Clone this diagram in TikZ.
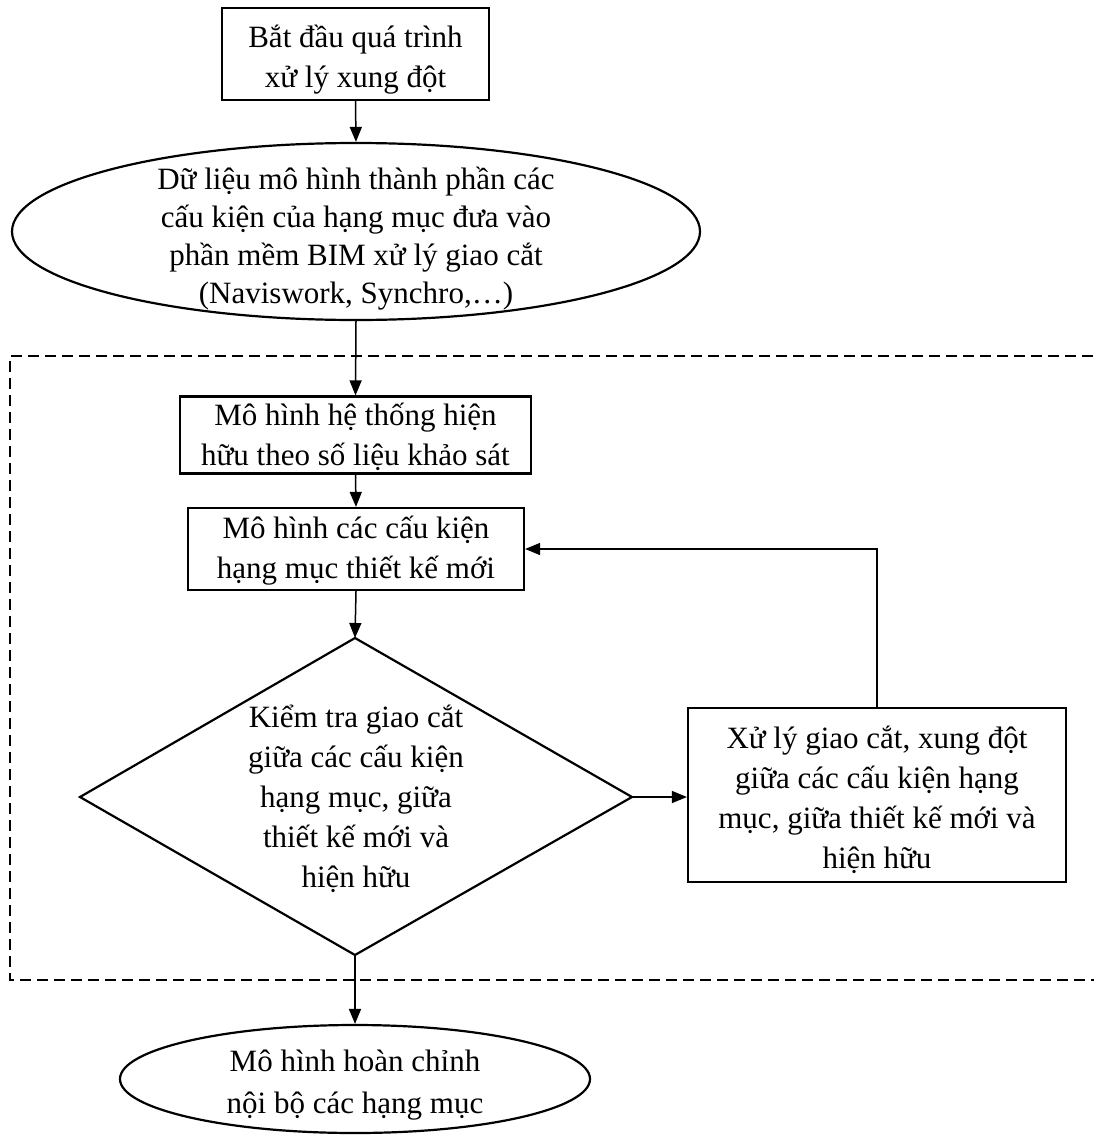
\documentclass[tikz,border=0pt]{standalone}
\usepackage{fontspec}
\setmainfont{Liberation Serif}
\usetikzlibrary{arrows.meta,shapes.geometric}
\begin{document}
\begin{tikzpicture}[x=1pt,y=-1pt,
  every node/.style={font=\fontsize{31}{40}\selectfont, align=center, inner sep=0pt},
  pbox/.style={draw, line width=2.2pt, rectangle},
  oval/.style={draw, line width=2.2pt, ellipse},
  arr/.style={line width=1.5pt, -{Triangle[length=15pt,width=12pt]}},
  frame/.style={line width=2.2pt, dash pattern=on 11pt off 6pt},
  ]
\useasboundingbox (0,0) rectangle (1094,1135);
% dashed frame (right side beyond the picture)
\draw[frame] (1110,356) -- (10,356) -- (10,980) -- (1110,980);

\node[pbox, minimum width=267pt, minimum height=92pt] (start) at (355.5,54) {};
\node (startt) at (355.5,60) {Bắt đầu quá trình\\xử lý xung đột};

\node[oval, minimum width=688pt, minimum height=177pt] (e1) at (356,231.5) {};
\node[font=\fontsize{31}{38}\selectfont] (e1t) at (356,239) {Dữ liệu mô hình thành phần các\\cấu kiện của hạng mục đưa vào\\phần mềm BIM xử lý giao cắt\\(Naviswork, Synchro,…)};

\node[pbox, minimum width=351pt, minimum height=77pt] (b2) at (355.5,435) {};
\node[font=\fontsize{31}{40}\selectfont] (b2t) at (355.5,437) {Mô hình hệ thống hiện\\hữu theo số liệu khảo sát};

\node[pbox, minimum width=336pt, minimum height=82pt] (b3) at (356,549) {};
\node[font=\fontsize{31}{40}\selectfont] (b3t) at (356,551) {Mô hình các cấu kiện\\hạng mục thiết kế mới};

\coordinate (dt) at (355,638);
\coordinate (dl) at (80,797);
\coordinate (dr) at (632,797);
\coordinate (db) at (355,955);
\draw[line width=2.2pt, line join=miter] (dt) -- (dr) -- (db) -- (dl) -- cycle;
\node (dtext) at (356,799) {Kiểm tra giao cắt\\giữa các cấu kiện\\hạng mục, giữa\\thiết kế mới và\\hiện hữu};

\node[pbox, minimum width=378pt, minimum height=174pt] (b4) at (877,795) {};
\node (b4t) at (877,800) {Xử lý giao cắt, xung đột\\giữa các cấu kiện hạng\\mục, giữa thiết kế mới và\\hiện hữu};

\node[oval, minimum width=470pt, minimum height=108pt] (e2) at (355,1079) {};
\node[font=\fontsize{31}{42}\selectfont] (e2t) at (355,1085) {Mô hình hoàn chỉnh\\nội bộ các hạng mục};

\draw[arr] (start.south) -- (e1.north);
\draw[arr] (e1.south) -- (b2.north);
\draw[arr] (b2.south) -- (b3.north);
\draw[arr] (b3.south) -- (dt);
\draw[arr] (dr) -- (dr -| b4.west);
\draw[arr] (b4.north) |- (b3.east);
\draw[arr] (db) -- (e2.north);
\end{tikzpicture}
\end{document}
